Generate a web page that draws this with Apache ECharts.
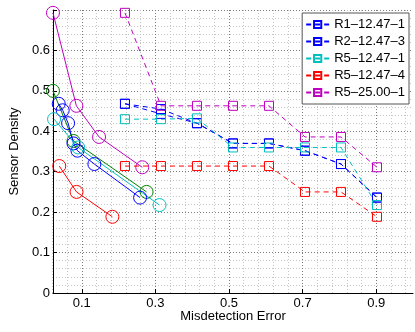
<!DOCTYPE html>
<html>
<head>
<meta charset="utf-8">
<script src="https://cdn.jsdelivr.net/npm/echarts@6/dist/echarts.min.js"></script>
<style>
html, body { margin: 0; padding: 0; background: #fff; }
#chart { width: 415px; height: 332px; }
</style>
</head>
<body>
<div id="chart"></div>
<script>
// thresholds for the dashed (square) runs
var xThresh = [0.2, 0.3, 0.4, 0.5, 0.6, 0.7, 0.8, 0.9]
var r1Sq = [0.468, 0.455, 0.42, 0.37, 0.37, 0.352, 0.319, 0.236]
var r2Sq = [0.468, 0.443, 0.42, 0.37, 0.37, 0.352, 0.319, 0.236]
var r5aSq = [0.43, 0.43, 0.432, 0.36, 0.36, 0.36, 0.36, 0.2175]
var r5bSq = [0.314, 0.314, 0.314, 0.314, 0.314, 0.25, 0.25, 0.1885]
var r5cSq = [0.693, 0.463, 0.463, 0.463, 0.463, 0.386, 0.386, 0.311]

// solid (circle) runs: misdetection error vs density
var magX = [0.0, 0.065, 0.128, 0.248]
var magY = [0.693, 0.463, 0.386, 0.311]
var greenX = [0.0, 0.057, 0.26]
var greenY = [0.50, 0.376, 0.25]
var blueX = [0.016, 0.027, 0.042, 0.057, 0.068, 0.115, 0.242]
var blueY = [0.468, 0.452, 0.42, 0.37, 0.352, 0.319, 0.236]
var cyanX = [0.003, 0.07, 0.296]
var cyanY = [0.43, 0.36, 0.2175]
var redX = [0.0175, 0.0655, 0.165]
var redY = [0.314, 0.25, 0.1885]

var legendNames = ['R1\u201312.47\u20131', 'R2\u201312.47\u20133', 'R5\u201312.47\u20131', 'R5\u201312.47\u20134', 'R5\u201325.00\u20131']

var BLUE = '#0000ff', GREEN = '#008000', RED = '#ff0000', CYAN = '#00bfbf', MAG = '#bf00bf'
var FONT = 'Liberation Sans, Arial, sans-serif'

function pairs(xs, ys) {
    return xs.map(function (x, i) { return [x, ys[i]] })
}

function solid(name, xs, ys, color) {
    return {
        name: name, type: 'line', xAxisIndex: 0, yAxisIndex: 0,
        data: pairs(xs, ys),
        symbol: 'circle', symbolSize: 13,
        lineStyle: {color: color, width: 1},
        itemStyle: {color: 'rgba(0,0,0,0)', borderColor: color, borderWidth: 1},
        z: 3
    }
}

function dashed(name, ys, color) {
    return {
        name: name, type: 'line', xAxisIndex: 0, yAxisIndex: 0,
        data: pairs(xThresh, ys),
        symbol: 'rect', symbolSize: 9,
        lineStyle: {color: color, width: 1, type: [5, 4]},
        itemStyle: {color: 'rgba(0,0,0,0)', borderColor: color, borderWidth: 1},
        z: 4
    }
}

var chart = echarts.init(document.getElementById('chart'), null, {renderer: 'canvas'})

var minorLine = {show: true, lineStyle: {color: '#c4c4c4', type: [1, 2], width: 1}}
var majorLine = {show: true, lineStyle: {color: '#7a7a7a', type: [1, 2], width: 1}}
var hidden = {show: false}

var option = {
    animation: false,
    textStyle: {fontFamily: FONT},
    grid: [
        {left: 45, right: 2, top: 10, bottom: 39},
        {left: 52.36, right: 9.36, top: 10, bottom: 39},
        {left: 81.8, right: 38.8, top: 10, bottom: 39}
    ],
    legend: {
        data: legendNames,
        orient: 'vertical',
        right: 6, top: 13,
        backgroundColor: '#fff',
        borderColor: '#555', borderWidth: 1, borderRadius: 0,
        padding: [5, 4, 5, 3],
        itemWidth: 23, itemHeight: 9, itemGap: 4,
        textStyle: {fontSize: 13, color: '#000', fontFamily: FONT}
    },
    xAxis: [
        {
            gridIndex: 0, type: 'value', min: 0, max: 1,
            axisLine: {show: true, lineStyle: {color: '#000', width: 1}},
            axisTick: hidden, axisLabel: hidden, splitLine: hidden,
            name: 'Misdetection Error', nameLocation: 'middle', nameGap: 17,
            nameTextStyle: {fontSize: 13, color: '#000', fontFamily: FONT}
        },
        {
            gridIndex: 1, type: 'value', min: 0.02, max: 0.98, interval: 0.04,
            axisLine: hidden, axisTick: hidden, axisLabel: hidden,
            splitLine: minorLine
        },
        {
            gridIndex: 2, type: 'value', min: 0.1, max: 0.9, interval: 0.2,
            axisLine: hidden,
            axisTick: {show: true, inside: true, length: 4, lineStyle: {color: '#000'}},
            axisLabel: {show: true, margin: 4, fontSize: 13, color: '#000', fontFamily: FONT,
                formatter: function (v) { return (+v).toFixed(1) }},
            splitLine: majorLine
        }
    ],
    yAxis: [
        {
            gridIndex: 0, type: 'value', min: 0, max: 0.7, interval: 0.1,
            axisLine: {show: true, lineStyle: {color: '#000', width: 1}},
            axisTick: {show: true, inside: true, length: 4, lineStyle: {color: '#000'}},
            axisLabel: {margin: 3, fontSize: 13, color: '#000', fontFamily: FONT,
                formatter: function (v) {
                    if (v > 0.65) return ''
                    return String(+(+v).toFixed(1))
                }},
            splitLine: majorLine,
            minorTick: {show: false, splitNumber: 5},
            minorSplitLine: minorLine,
            name: 'Sensor Density', nameLocation: 'middle', nameGap: 28,
            nameTextStyle: {fontSize: 13, color: '#000', fontFamily: FONT}
        },
        {gridIndex: 1, type: 'value', min: 0, max: 0.7, show: false},
        {gridIndex: 2, type: 'value', min: 0, max: 0.7, show: false}
    ],
    series: [
        solid('mag det', magX, magY, MAG),
        solid('green det', greenX, greenY, GREEN),
        solid('blue det', blueX, blueY, BLUE),
        solid('cyan det', cyanX, cyanY, CYAN),
        solid('red det', redX, redY, RED),
        dashed(legendNames[0], r1Sq, BLUE),
        dashed(legendNames[1], r2Sq, BLUE),
        dashed(legendNames[2], r5aSq, CYAN),
        dashed(legendNames[3], r5bSq, RED),
        dashed(legendNames[4], r5cSq, MAG)
    ]
}

option && chart.setOption(option)
</script>
</body>
</html>
